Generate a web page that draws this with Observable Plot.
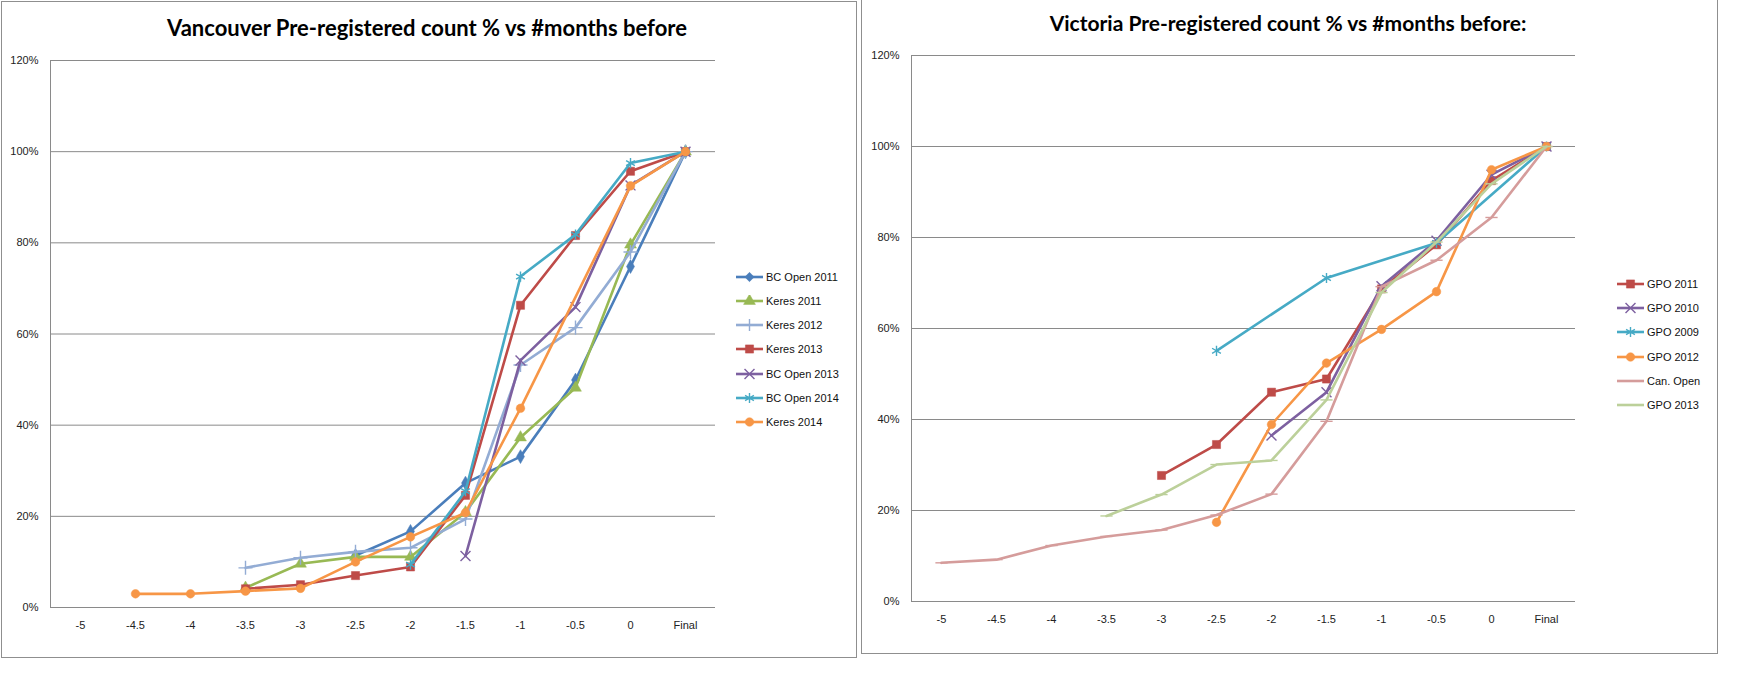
<!DOCTYPE html>
<html>
<head>
<meta charset="utf-8">
<script src="https://cdn.jsdelivr.net/npm/d3@7"></script>
<script src="https://cdn.jsdelivr.net/npm/@observablehq/plot@0.6"></script>
<style>
  html, body { margin: 0; padding: 0; background: #fff; }
  #page { position: relative; width: 1739px; height: 676px; overflow: hidden; background: #fff; font-family: "Liberation Sans", Arial, sans-serif; }
  .frame { position: absolute; border: 1.5px solid #8f8f8f; box-sizing: border-box; }
  .title { position: absolute; transform: translate(-50%, -50%); white-space: nowrap; font-family: Lato, "Liberation Sans", sans-serif; font-weight: 700; color: #000; }
  .chart { position: absolute; }
  .legend { position: absolute; font-size: 11px; color: #111; }
  .legend .item { position: absolute; left: 0; display: flex; align-items: center; white-space: nowrap; transform: translateY(-50%); }
  .legend svg { display: block; margin-right: 2px; }
</style>
</head>
<body>
<div id="page"></div>
<script>
// ---------------- data ----------------
const months = ["-5", "-4.5", "-4", "-3.5", "-3", "-2.5", "-2", "-1.5", "-1", "-0.5", "0", "Final"];
const yTicks = [0, 20, 40, 60, 80, 100, 120];

// Vancouver (% of final pre-registered count)
const vanNames = ["BC Open 2011", "Keres 2011", "Keres 2012", "Keres 2013", "BC Open 2013", "BC Open 2014", "Keres 2014"];
const bcOpen2011 = [null, null, null, null, null, 11.4, 16.7, 27.3, 33.1, 49.9, 74.8, 100];
const keres2011  = [null, null, null, 4.3, 9.6, 11.1, 11.1, 20.9, 37.3, 48.2, 79.6, 100];
const keres2012  = [null, null, null, 8.7, 10.9, 12.2, 13.1, 19.4, 53.2, 61.4, 78.0, 100];
const keres2013  = [null, null, null, 4.1, 5.0, 7.0, 8.9, 24.6, 66.3, 81.6, 95.7, 100];
const bcOpen2013 = [null, null, null, null, null, null, null, 11.3, 54.2, 65.9, 92.6, 100];
const bcOpen2014 = [null, null, null, null, null, null, 9.4, 25.5, 72.6, 81.8, 97.5, 100];
const keres2014  = [null, 3.0, 3.0, 3.6, 4.2, 10.0, 15.5, 20.8, 43.7, null, 92.5, 100];

// Victoria
const vicNames = ["GPO 2011", "GPO 2010", "GPO 2009", "GPO 2012", "Can. Open", "GPO 2013"];
const gpo2011 = [null, null, null, null, 27.7, 34.5, 46.0, 48.9, 68.7, 78.4, 92.5, 100];
const gpo2010 = [null, null, null, null, null, null, 36.5, 46.0, 69.3, 79.3, 93.8, 100];
const gpo2009 = [null, null, null, null, null, 55.1, null, 71.1, null, 78.8, null, 100];
const gpo2012 = [null, null, null, null, null, 17.4, 38.9, 52.4, 59.8, 68.1, 94.9, 100];
const canOpen = [8.5, 9.2, 12.3, 14.3, 15.7, 19.0, 23.6, 39.6, 69.2, 75.0, 84.4, 100];
const gpo2013 = [null, null, null, 18.8, 23.5, 30.1, 31.0, 44.3, 67.9, 79.0, 91.8, 100];

// ---------------- styles ----------------
const dashSymbol = { draw(ctx, size) { const w = Math.sqrt(size) * 0.75; ctx.moveTo(-w, 0); ctx.lineTo(w, 0); } };
const styles = {
  "BC Open 2011": { color: "#4A7EBB", symbol: "diamond", fill: true, r: 4.2 },
  "Keres 2011":   { color: "#98B954", symbol: "triangle", fill: true, r: 4.4 },
  "Keres 2012":   { color: "#93ACD4", symbol: "plus", fill: false, r: 4.6 },
  "Keres 2013":   { color: "#BE4B48", symbol: "square", fill: true, r: 4.6 },
  "BC Open 2013": { color: "#7D60A0", symbol: "times", fill: false, r: 4.6 },
  "BC Open 2014": { color: "#46AAC5", symbol: "asterisk", fill: false, r: 4.8 },
  "Keres 2014":   { color: "#F79646", symbol: "circle", fill: true, r: 4.3 },
  "GPO 2011":     { color: "#BE4B48", symbol: "square", fill: true, r: 4.6 },
  "GPO 2010":     { color: "#7D60A0", symbol: "times", fill: false, r: 4.6 },
  "GPO 2009":     { color: "#46AAC5", symbol: "asterisk", fill: false, r: 4.8 },
  "GPO 2012":     { color: "#F79646", symbol: "circle", fill: true, r: 4.3 },
  "Can. Open":    { color: "#D59C9B", symbol: dashSymbol, fill: false, r: 4.6 },
  "GPO 2013":     { color: "#BCD09A", symbol: dashSymbol, fill: false, r: 4.6 }
};

function rows(values) {
  return months.map((m, i) => ({ month: m, value: values[i] })).filter(d => d.value != null);
}

function makeChart(seriesNames, seriesValues, opt) {
  const marks = [
    Plot.gridY(yTicks, { stroke: "#8a8a8a", strokeOpacity: 1, strokeWidth: 1 }),
    Plot.frame({ anchor: "left", stroke: "#8a8a8a", strokeWidth: 1 }),
    Plot.axisY(yTicks, { tickSize: 0, tickPadding: 12, tickFormat: d => d + "%", fontSize: 11, fill: "#222" }),
    Plot.axisX({ tickSize: 0, tickPadding: 14, fontSize: 11, fill: "#222" })
  ];
  seriesNames.forEach((name, k) => {
    const s = styles[name];
    const data = rows(seriesValues[k]);
    marks.push(Plot.line(data, { x: "month", y: "value", stroke: s.color, strokeWidth: 2.6, strokeLinejoin: "round" }));
    marks.push(Plot.dot(data, {
      x: "month", y: "value", symbol: () => s.symbol, r: s.r,
      fill: s.fill ? s.color : "none",
      stroke: s.color, strokeWidth: s.fill ? 0.5 : 1.4
    }));
  });
  return Plot.plot({
    width: opt.width, height: opt.height,
    marginLeft: opt.ml, marginRight: opt.mr, marginTop: opt.mt, marginBottom: opt.mb,
    style: { background: "transparent", fontFamily: "'Liberation Sans', Arial, sans-serif", overflow: "visible" },
    x: { type: "point", domain: months, padding: 0.5, label: null },
    y: { domain: [0, 120], label: null },
    symbol: { type: "identity" },
    marks
  });
}

const symMap = { diamond: d3.symbolDiamond2, triangle: d3.symbolTriangle, plus: d3.symbolPlus, square: d3.symbolSquare,
                 times: d3.symbolTimes, asterisk: d3.symbolAsterisk, circle: d3.symbolCircle };

function makeLegend(names, left, top, step) {
  const lg = document.createElement("div");
  lg.className = "legend";
  lg.style.left = left + "px";
  lg.style.top = top + "px";
  names.forEach((name, i) => {
    const s = styles[name];
    const item = document.createElement("div");
    item.className = "item";
    item.style.top = (i * step) + "px";
    const svg = d3.create("svg").attr("width", 28).attr("height", 12);
    svg.append("line").attr("x1", 0).attr("x2", 27).attr("y1", 6).attr("y2", 6)
      .attr("stroke", s.color).attr("stroke-width", 2.6);
    const t = typeof s.symbol === "string" ? symMap[s.symbol] : s.symbol;
    svg.append("path").attr("transform", "translate(13.5,6)")
      .attr("d", d3.symbol(t, Math.PI * s.r * s.r)())
      .attr("fill", s.fill ? s.color : "none").attr("stroke", s.color).attr("stroke-width", s.fill ? 0.5 : 1.4);
    item.appendChild(svg.node());
    const span = document.createElement("span");
    span.textContent = name;
    item.appendChild(span);
    lg.appendChild(item);
  });
  return lg;
}

const page = document.getElementById("page");

// Left: Vancouver
const f1 = document.createElement("div");
f1.className = "frame"; Object.assign(f1.style, { left: "1px", top: "1px", width: "856px", height: "657px" });
page.appendChild(f1);
const c1 = document.createElement("div"); c1.className = "chart"; c1.style.left = "0px"; c1.style.top = "0px";
c1.appendChild(makeChart(vanNames, [bcOpen2011, keres2011, keres2012, keres2013, bcOpen2013, bcOpen2014, keres2014],
  { width: 858, height: 659, ml: 50, mr: 143, mt: 60, mb: 52 }));
page.appendChild(c1);
const t1 = document.createElement("div"); t1.className = "title";
t1.textContent = "Vancouver Pre-registered count % vs #months before";
t1.style.left = "427px"; t1.style.top = "27px"; t1.style.fontSize = "22px";
page.appendChild(t1);
page.appendChild(makeLegend(vanNames, 736, 277, 24.15));

// Right: Victoria
const f2 = document.createElement("div");
f2.className = "frame"; Object.assign(f2.style, { left: "861px", top: "-2px", width: "857px", height: "656px" });
page.appendChild(f2);
const c2 = document.createElement("div"); c2.className = "chart"; c2.style.left = "862px"; c2.style.top = "0px";
c2.appendChild(makeChart(vicNames, [gpo2011, gpo2010, gpo2009, gpo2012, canOpen, gpo2013],
  { width: 856, height: 655, ml: 49, mr: 143, mt: 55, mb: 54 }));
page.appendChild(c2);
const t2 = document.createElement("div"); t2.className = "title";
t2.textContent = "Victoria Pre-registered count % vs #months before:";
t2.style.left = "1288px"; t2.style.top = "22px"; t2.style.fontSize = "21px";
page.appendChild(t2);
page.appendChild(makeLegend(vicNames, 1617, 284, 24.2));
</script>
</body>
</html>
